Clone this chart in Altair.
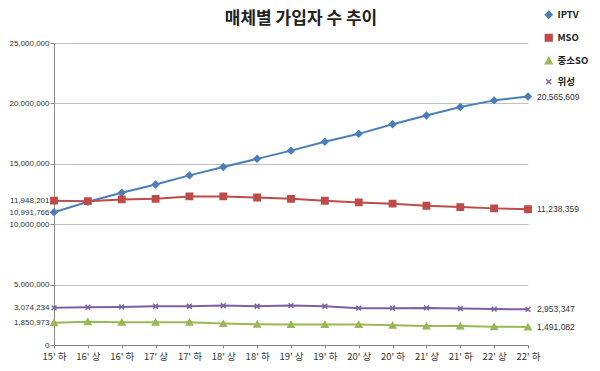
import altair as alt
import pandas as pd

periods = ["15' 하", "16' 상", "16' 하", "17' 상", "17' 하", "18' 상", "18' 하", "19' 상",
           "19' 하", "20' 상", "20' 하", "21' 상", "21' 하", "22' 상", "22' 하"]
series = ["IPTV", "MSO", "중소SO", "위성"]
iptv = [10991766, 11860000, 12600000, 13280000, 14040000, 14730000, 15410000, 16090000,
        16830000, 17480000, 18280000, 19000000, 19700000, 20250000, 20565609]
mso = [11948201, 11910000, 12050000, 12100000, 12300000, 12300000, 12210000, 12100000,
       11940000, 11800000, 11700000, 11530000, 11420000, 11310000, 11238359]
small_so = [1850973, 1930000, 1880000, 1880000, 1880000, 1770000, 1710000, 1690000,
            1690000, 1690000, 1630000, 1580000, 1580000, 1520000, 1491082]
satellite = [3074234, 3130000, 3150000, 3210000, 3210000, 3260000, 3210000, 3260000,
             3210000, 3050000, 3050000, 3070000, 3020000, 2970000, 2953347]
y_ticks = [0, 5000000, 10000000, 15000000, 20000000, 25000000]
y_extra = [1850973, 3074234, 10991766, 11948201]

colors = ["#4A7EBB", "#BE4B48", "#98B954", "#7D60A0"]
x_path = "M-0.75,-0.75L0.75,0.75M-0.75,0.75L0.75,-0.75"
shapes = ["diamond", "square", "triangle-up", x_path]

rows = []
for name, vals in zip(series, [iptv, mso, small_so, satellite]):
    for i, (p, v) in enumerate(zip(periods, vals)):
        rows.append({"period": p, "series": name, "value": v, "last": i == len(periods) - 1})
df = pd.DataFrame(rows)

color_scale = alt.Scale(domain=series, range=colors)
shape_scale = alt.Scale(domain=series, range=shapes)

x_enc = alt.X("period:N", sort=periods, scale=alt.Scale(padding=0),
              axis=alt.Axis(title=None, labelAngle=0, labelFont="Noto Sans CJK KR",
                            labelFontSize=9.5, labelColor="#333333", domainColor="#888888",
                            tickColor="#888888", tickSize=3, labelPadding=3))
y_enc = alt.Y("value:Q", scale=alt.Scale(domain=[0, 25000000], nice=False),
              axis=alt.Axis(title=None, values=y_ticks + y_extra, format=",d",
                            labelOverlap=False, labelFont="Liberation Sans", labelFontSize=8,
                            labelColor="#333333", domainColor="#888888", tickColor="#888888",
                            tickSize=4, labelPadding=1, gridColor="#C0C0C0",
                            gridOpacity={"condition": {"test": "datum.value % 5000000 === 0", "value": 1}, "value": 0},
                            tickOpacity={"condition": {"test": "datum.value % 5000000 === 0", "value": 1}, "value": 0}))

base = alt.Chart(df).encode(x=x_enc, y=y_enc)

legend = alt.Legend(title=None, orient="none", legendX=490, legendY=-33,
                    labelFont="Noto Sans CJK KR", labelFontSize=9.5, labelFontWeight="bold",
                    labelColor="#222222", rowPadding=9, symbolSize=45, symbolStrokeWidth=1.5,
                    labelOffset=4)

lines = base.mark_line(strokeWidth=2).encode(
    color=alt.Color("series:N", scale=color_scale, sort=series, legend=legend))

points = base.mark_point(filled=False, size=40, strokeWidth=1.5, opacity=1).encode(
    color=alt.Color("series:N", scale=color_scale, sort=series, legend=legend),
    fill=alt.Fill("series:N", scale=color_scale, sort=series, legend=legend),
    shape=alt.Shape("series:N", scale=shape_scale, sort=series, legend=legend))

end_labels = base.transform_filter("datum.last").mark_text(
    align="left", dx=9, font="Liberation Sans", fontSize=8.5, color="#333333"
).encode(text=alt.Text("value:Q", format=",d"))

chart = alt.layer(lines, points, end_labels).properties(
    width=474, height=302,
    title=alt.TitleParams("매체별 가입자 수 추이", font="Noto Sans CJK KR", fontSize=17,
                          fontWeight="bold", color="#222222", anchor="middle", frame="group",
                          dx=10, offset=-18),
    autosize=alt.AutoSizeParams(type="none"),
    padding={"left": 46, "top": 35, "right": 64, "bottom": 18},
).configure_view(stroke=None)

chart.save("out.html", embed_options={"renderer": "svg", "actions": False})
